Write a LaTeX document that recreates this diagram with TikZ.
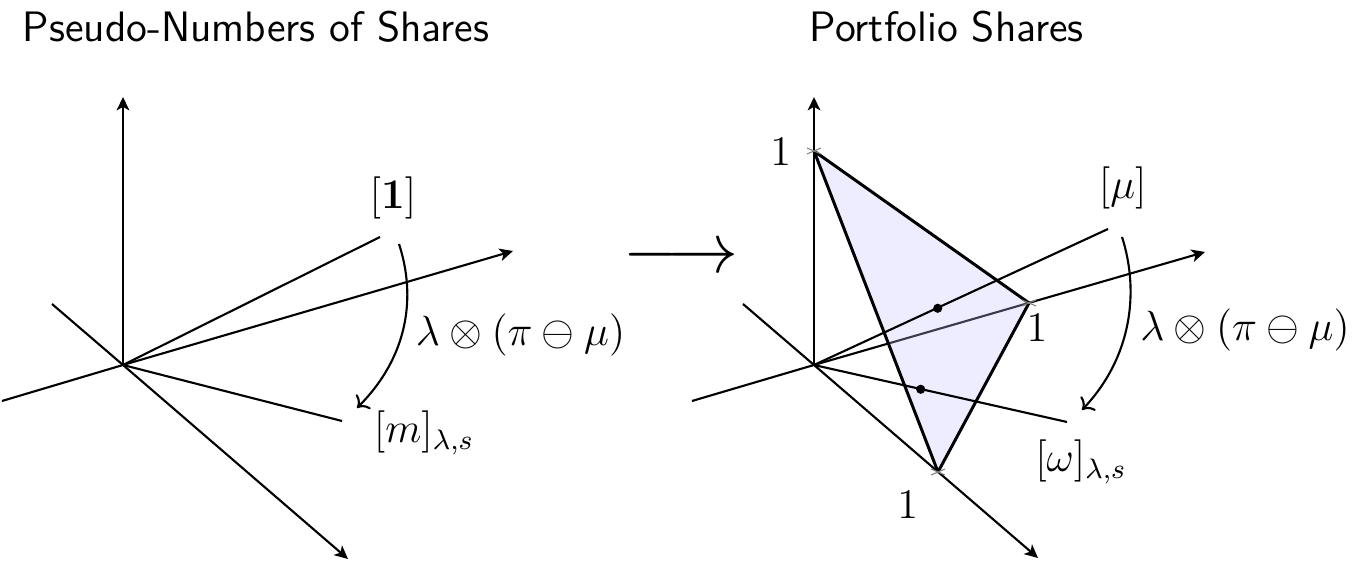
\documentclass[tikz,border=0pt]{standalone}
\usetikzlibrary{arrows.meta}
\begin{document}
\begin{tikzpicture}[x=0.01cm,y=-0.01cm,
  axis/.style={line width=0.6pt,-{Stealth[length=3.8pt,width=3.6pt,inset=1pt]}},
  plain/.style={line width=0.6pt},
  edge/.style={line width=0.85pt,line join=round},
  bendarrow/.style={line width=0.6pt,-{To[length=2.8pt,width=5.8pt]}},
  lbl/.style={inner sep=0pt,font=\fontsize{11.8}{14}\selectfont},
  title/.style={inner sep=0pt,anchor=base west,font=\fontsize{12.1}{14}\selectfont\sffamily},
  dot/.style={circle,fill=black,inner sep=0pt,minimum size=2.6pt},
  xmark/.style={draw=gray,line width=0.3pt}
]
\useasboundingbox (0,0) rectangle (1364,562);

% ---------- left diagram ----------
\coordinate (LO) at (123,365);
\coordinate (Lup) at (123,97);
\coordinate (Lxa) at (2,401);
\coordinate (Lxb) at (513,251);
\coordinate (Lda) at (52,304);
\coordinate (Ldb) at (348,559);
\coordinate (Lr1) at (380,237);
\coordinate (Lrm) at (342,421);
\coordinate (Lab) at (399,244);
\coordinate (Lae) at (357,408);

\node[title] (t1) at (22,42) {Pseudo-Numbers of Shares};
\draw[axis] (LO) -- (Lup);
\draw[plain] (Lxa) -- (LO);
\draw[axis] (LO) -- (Lxb);
\draw[plain] (Lda) -- (LO);
\draw[axis] (LO) -- (Ldb);
\draw[plain] (LO) -- (Lr1);
\draw[plain] (LO) -- (Lrm);
\draw[bendarrow] (Lab) .. controls (416,296) and (409,356) .. (Lae);
\node[lbl] (one) at (393,198) {$[\mathbf{1}]$};
\node[lbl] (lop1) at (520.5,335) {$\lambda\otimes(\pi\ominus\mu)$};
\node[lbl] (m) at (424,433) {$[m]_{\lambda,s}$};

% ---------- middle arrow ----------
\node[inner sep=0pt] (mid) at (681,259) {\scalebox{2.02}{$\longrightarrow$}};

% ---------- right diagram ----------
\coordinate (RO) at (814,365);
\coordinate (Rup) at (814,97);
\coordinate (Rxa) at (692,401);
\coordinate (Rxb) at (1205,252);
\coordinate (Rda) at (743,304);
\coordinate (Rdb) at (1038,558);
\coordinate (Rmu) at (1108,229);
\coordinate (Rom) at (1067,422);
\coordinate (A) at (814,151);
\coordinate (B) at (1029,303);
\coordinate (C) at (938,472);
\coordinate (Rab) at (1122,237);
\coordinate (Rae) at (1082,410);

\node[title] (t2) at (809,42) {Portfolio Shares};
\draw[axis] (RO) -- (Rxb);
\fill[blue!23,fill opacity=0.3] (A) -- (B) -- (C) -- cycle;
\draw[axis] (RO) -- (Rup);
\draw[plain] (Rxa) -- (RO);
\draw[plain] (Rda) -- (RO);
\draw[axis] (RO) -- (Rdb);
\draw[plain] (RO) -- (Rmu);
\draw[plain] (RO) -- (Rom);
\draw[edge] (A) -- (B) -- (C) -- cycle;
\foreach \p in {A,B,C}{
  \draw[xmark] ([shift={(-7,-3)}]\p) -- ([shift={(7,3)}]\p);
  \draw[xmark] ([shift={(-7,3)}]\p) -- ([shift={(7,-3)}]\p);
}
\node[dot] (d1) at (937.7,308.3) {};
\node[dot] (d2) at (920.7,389.3) {};
\draw[bendarrow] (Rab) .. controls (1139,290) and (1133,356) .. (Rae);
\node[lbl] (oneA) at (780.7,152) {$1$};
\node[lbl] (oneB) at (1037,328) {$1$};
\node[lbl] (oneC) at (907.7,505) {$1$};
\node[lbl] (mu) at (1122.7,188) {$[\mu]$};
\node[lbl] (lop2) at (1245,330) {$\lambda\otimes(\pi\ominus\mu)$};
\node[lbl] (om) at (1081,462) {$[\omega]_{\lambda,s}$};
\end{tikzpicture}
\end{document}
